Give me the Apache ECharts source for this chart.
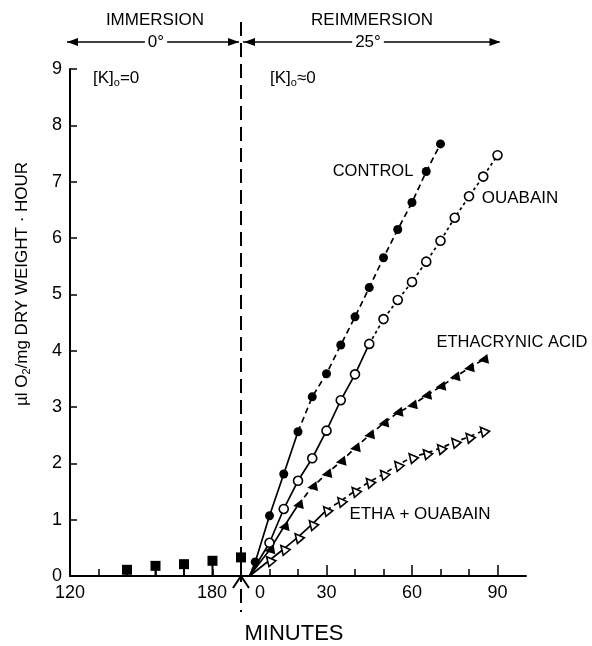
<!DOCTYPE html>
<html><head><meta charset="utf-8">
<script src="https://cdn.jsdelivr.net/npm/echarts@6/dist/echarts.min.js"></script>
<style>html,body{margin:0;padding:0;background:#fff}#c{width:592px;height:646px}</style>
</head><body><div id="c"></div>
<script>
// ---- data (minutes on a continuous clock: reimmersion minute 0 = clock 180) ----
const reimmersionStart = 180;
const immersionTimes = [140, 150, 160, 170, 180];
const immersionValues = [0.11, 0.18, 0.21, 0.27, 0.33];

const startTime = 3;      // reimmersion curves leave the axis here
const startValue = 0;

const controlTimes = [5,10,15,20,25,30,35,40,45,50,55,60,65,70];
const controlValues = [0.25,1.07,1.81,2.56,3.18,3.59,4.1,4.6,5.12,5.65,6.15,6.63,7.18,7.67];
const controlBreak = 20;

const ouabainTimes = [10,15,20,25,30,35,40,45,50,55,60,65,70,75,80,85,90];
const ouabainValues = [0.59,1.19,1.69,2.09,2.58,3.12,3.58,4.12,4.56,4.9,5.22,5.58,5.95,6.36,6.74,7.09,7.47];
const ouabainBreak = 45;

const ethacrynicTimes = [10,15,20,25,30,35,40,45,50,55,60,65,70,75,80,85];
const ethacrynicValues = [0.46,0.87,1.26,1.58,1.81,2.03,2.27,2.5,2.71,2.9,3.03,3.2,3.36,3.53,3.69,3.84];
const ethacrynicBreak = 20;

const ethaOuabainTimes = [10,15,20,25,30,35,40,45,50,55,60,65,70,75,80,85];
const ethaOuabainValues = [0.28,0.48,0.69,0.92,1.17,1.33,1.51,1.67,1.81,1.97,2.11,2.18,2.27,2.38,2.47,2.58];
const ethaOuabainBreak = 30;

const xLabelValues = [120, 180, 210, 240, 270];
const xLabelTexts = ['120', '180|0', '30', '60', '90'];
const xMinorTicks = [130,140,150,160,170,190,200,220,230,250,260];
const xMajorTicks = [210, 240, 270];

// ---- chart ----
const black = '#000';
const FONT = '"Liberation Sans", Arial, Helvetica, sans-serif';
const chart = echarts.init(document.getElementById('c'));

function curveSeries(times, values, breakT, dashType, symbol, filled, rotate, size) {
  const pts = [[reimmersionStart + startTime, startValue]]
    .concat(times.map((t, i) => [reimmersionStart + t, values[i]]));
  const bi = pts.findIndex(p => p[0] === reimmersionStart + breakT);
  return [
    {type: 'line', data: pts.slice(0, bi + 1), symbol: 'none', z: 2, silent: true,
     lineStyle: {color: black, width: 1.7, type: 'solid', opacity: 1}},
    {type: 'line', data: pts.slice(bi), symbol: 'none', z: 2, silent: true,
     lineStyle: {color: black, width: 1.7, type: dashType, opacity: 1}},
    {type: 'scatter', data: pts.slice(1), symbol: symbol, symbolSize: size, symbolRotate: rotate, z: 3,
     itemStyle: filled ? {color: black, opacity: 1}
                       : {color: '#fff', borderColor: black, borderWidth: 1.6, opacity: 1}}
  ];
}

const series = [
  {type: 'bar', xAxisIndex: 0, data: immersionTimes.map((t, i) => [t, immersionValues[i]]),
   barWidth: 2, itemStyle: {color: black, opacity: 1}, z: 2},
  {type: 'scatter', xAxisIndex: 0, data: immersionTimes.map((t, i) => [t, immersionValues[i]]),
   symbol: 'rect', symbolSize: 10, itemStyle: {color: black, opacity: 1}, z: 3}
].concat(
  curveSeries(controlTimes, controlValues, controlBreak, [6, 4], 'circle', true, 0, 9),
  curveSeries(ouabainTimes, ouabainValues, ouabainBreak, [3, 3], 'circle', false, 0, 9),
  curveSeries(ethacrynicTimes, ethacrynicValues, ethacrynicBreak, [6, 4], 'triangle', true, 100, 10),
  curveSeries(ethaOuabainTimes, ethaOuabainValues, ethaOuabainBreak, [5, 4], 'triangle', false, 40, 9)
);

chart.setOption({
  animation: false,
  backgroundColor: '#fff',
  grid: {left: 70, right: 66, top: 69, bottom: 70},
  xAxis: [{
    type: 'value', min: 120, max: 280, interval: 10,
    axisLine: {lineStyle: {color: black, width: 2}},
    axisTick: {inside: true, length: 7, lineStyle: {color: black, width: 1.5}, customValues: xMinorTicks},
    axisLabel: {
      customValues: xLabelValues, margin: 8, color: black, fontSize: 18, fontFamily: FONT,
      formatter: function (v) {
        const s = xLabelTexts[xLabelValues.indexOf(v)];
        if (s.indexOf('|') >= 0) { const p = s.split('|'); return '{l|' + p[0] + '}{r|' + p[1] + '}'; }
        return s;
      },
      rich: {
        l: {width: 38, align: 'center', fontSize: 18, fontFamily: FONT, color: black},
        r: {width: 58, align: 'center', fontSize: 18, fontFamily: FONT, color: black}
      }
    },
    splitLine: {show: false}
  }, {
    type: 'value', min: 120, max: 280, position: 'bottom',
    axisLine: {show: false},
    axisTick: {inside: true, length: 11, lineStyle: {color: black, width: 1.5}, customValues: xMajorTicks},
    axisLabel: {show: false}, splitLine: {show: false}
  }],
  yAxis: {
    type: 'value', min: 0, max: 9, interval: 1,
    axisLine: {show: true, lineStyle: {color: black, width: 2}},
    axisTick: {show: true, inside: true, length: 7, lineStyle: {color: black, width: 1.5}},
    axisLabel: {margin: 8, color: black, fontSize: 18, fontFamily: FONT},
    splitLine: {show: false}
  },
  series: series
});

// ---- annotations ----
const px = (t, v) => chart.convertToPixel({xAxisIndex: 0, yAxisIndex: 0}, [t, v]);
const x0 = px(reimmersionStart, 0)[0];
const yAxis0 = px(120, 0)[1];
const xL = px(120, 0)[0];
const xR = px(270, 0)[0];
const yArr = 42;

function txt(x, y, text, size, extra) {
  return Object.assign({type: 'text', x: x, y: y, z: 10,
    style: Object.assign({text: text, fill: black, fontSize: size, fontFamily: FONT,
      align: 'center', verticalAlign: 'middle'}, extra || {})});
}
function head(x, y, dir) {
  return {type: 'polygon', z: 10, shape: {points: [[x, y], [x - dir * 11, y - 4], [x - dir * 11, y + 4]]},
    style: {fill: black}};
}
const subRich = {sub: {fontSize: 11, fontFamily: FONT, fill: black, padding: [10, 0, 0, 0]}};

chart.setOption({
  graphic: [
    {type: 'line', z: 9, shape: {x1: x0, y1: 22, x2: x0, y2: 612},
     style: {stroke: black, lineWidth: 2, lineDash: [14, 7]}},
    {type: 'polyline', z: 9, shape: {points: [[x0 - 8, yAxis0 + 12], [x0, yAxis0], [x0 + 8, yAxis0 + 12]]},
     style: {stroke: black, lineWidth: 2, fill: null}},
    {type: 'line', z: 9, shape: {x1: xL - 3, y1: yArr, x2: x0 - 2, y2: yArr}, style: {stroke: black, lineWidth: 1.6}},
    {type: 'line', z: 9, shape: {x1: x0 + 2, y1: yArr, x2: xR + 2, y2: yArr}, style: {stroke: black, lineWidth: 1.6}},
    head(xL - 3, yArr, -1), head(x0 - 2, yArr, 1), head(x0 + 3, yArr, -1), head(xR + 3, yArr, 1),
    txt(155, 20, 'IMMERSION', 17),
    txt(372, 20, 'REIMMERSION', 17),
    txt(156, yArr, '0°', 17, {backgroundColor: '#fff', padding: [0, 3]}),
    txt(368, yArr, '25°', 17, {backgroundColor: '#fff', padding: [0, 3]}),
    txt(93, 78, '[K]{sub|o}=0', 17, {align: 'left', rich: subRich}),
    txt(270, 78, '[K]{sub|o}≈0', 17, {align: 'left', rich: subRich}),
    txt(373, 171, 'CONTROL', 16.5),
    txt(520, 198, 'OUABAIN', 17),
    txt(512, 342, 'ETHACRYNIC ACID', 16.5),
    txt(420, 514, 'ETHA + OUABAIN', 17),
    txt(294, 634, 'MINUTES', 22),
    {type: 'text', x: 22, y: 284, rotation: Math.PI / 2, z: 10,
     style: {text: 'µl O{sub|2}/mg DRY WEIGHT · HOUR', fill: black, fontSize: 17, fontFamily: FONT,
       align: 'center', verticalAlign: 'middle', rich: subRich}}
  ]
});
</script></body></html>
